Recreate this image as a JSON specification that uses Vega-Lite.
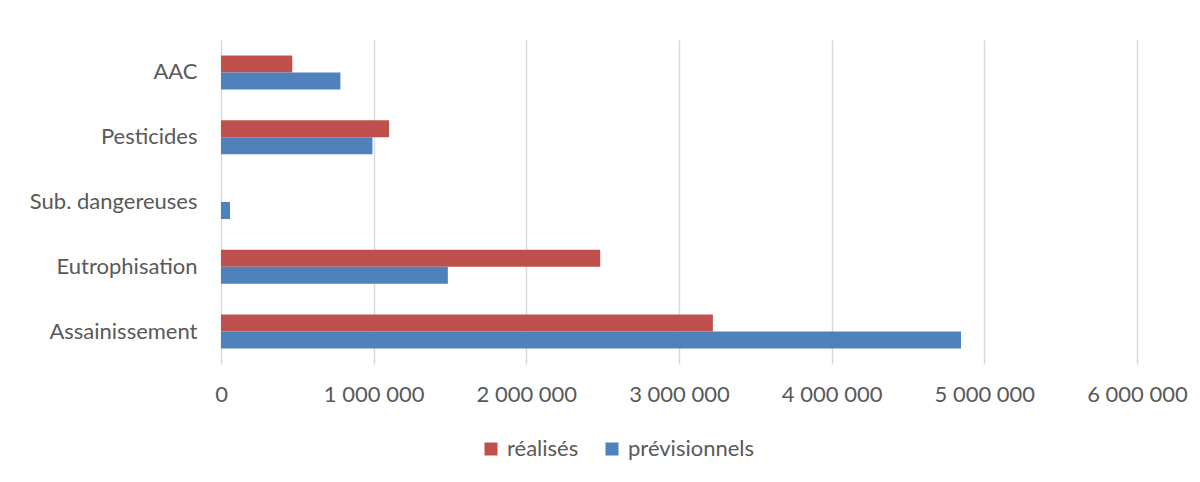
{
  "$schema": "https://vega.github.io/schema/vega-lite/v6.json",
  "width": 916,
  "height": 324,
  "autosize": {"type": "none"},
  "padding": {"left": 221, "top": 40, "right": 63, "bottom": 118},
  "background": "white",
  "data": {
    "values": [
      {"categorie": "AAC", "serie": "réalisés", "valeur": 467000},
      {"categorie": "AAC", "serie": "prévisionnels", "valeur": 782000},
      {"categorie": "Pesticides", "serie": "réalisés", "valeur": 1101000},
      {"categorie": "Pesticides", "serie": "prévisionnels", "valeur": 992000},
      {"categorie": "Sub. dangereuses", "serie": "réalisés", "valeur": 0},
      {"categorie": "Sub. dangereuses", "serie": "prévisionnels", "valeur": 59000},
      {"categorie": "Eutrophisation", "serie": "réalisés", "valeur": 2484000},
      {"categorie": "Eutrophisation", "serie": "prévisionnels", "valeur": 1486000},
      {"categorie": "Assainissement", "serie": "réalisés", "valeur": 3222000},
      {"categorie": "Assainissement", "serie": "prévisionnels", "valeur": 4847000}
    ]
  },
  "mark": {"type": "bar"},
  "encoding": {
    "y": {
      "field": "categorie",
      "type": "nominal",
      "sort": ["AAC", "Pesticides", "Sub. dangereuses", "Eutrophisation", "Assainissement"],
      "scale": {"paddingInner": 0.475, "paddingOuter": 0.2375},
      "axis": {
        "title": null,
        "domain": false,
        "ticks": false,
        "grid": false,
        "labelPadding": 24,
        "labelFont": "Lato",
        "labelFontSize": 22,
        "labelColor": "#595959"
      }
    },
    "yOffset": {"field": "serie", "sort": ["réalisés", "prévisionnels"]},
    "x": {
      "field": "valeur",
      "type": "quantitative",
      "scale": {"domain": [0, 6000000], "nice": false},
      "axis": {
        "title": null,
        "values": [0, 1000000, 2000000, 3000000, 4000000, 5000000, 6000000],
        "domain": false,
        "ticks": false,
        "grid": true,
        "gridColor": "#D9D9D9",
        "gridWidth": 1.5,
        "labelFlush": false,
        "labelPadding": 20,
        "labelFont": "Lato",
        "labelFontSize": 22,
        "labelColor": "#595959",
        "labelExpr": "replace(format(datum.value, ',d'), regexp(',', 'g'), ' ')"
      }
    },
    "color": {
      "field": "serie",
      "type": "nominal",
      "sort": ["réalisés", "prévisionnels"],
      "scale": {"domain": ["réalisés", "prévisionnels"], "range": ["#C0504D", "#4F81BD"]},
      "legend": {
        "title": null,
        "orient": "none",
        "legendX": 259,
        "legendY": 398,
        "direction": "horizontal",
        "symbolType": "square",
        "symbolSize": 169,
        "symbolStrokeWidth": 0,
        "labelOffset": 5,
        "columnPadding": 22,
        "labelFont": "Lato",
        "labelFontSize": 22,
        "labelColor": "#595959"
      }
    }
  },
  "config": {"view": {"stroke": null}}
}
